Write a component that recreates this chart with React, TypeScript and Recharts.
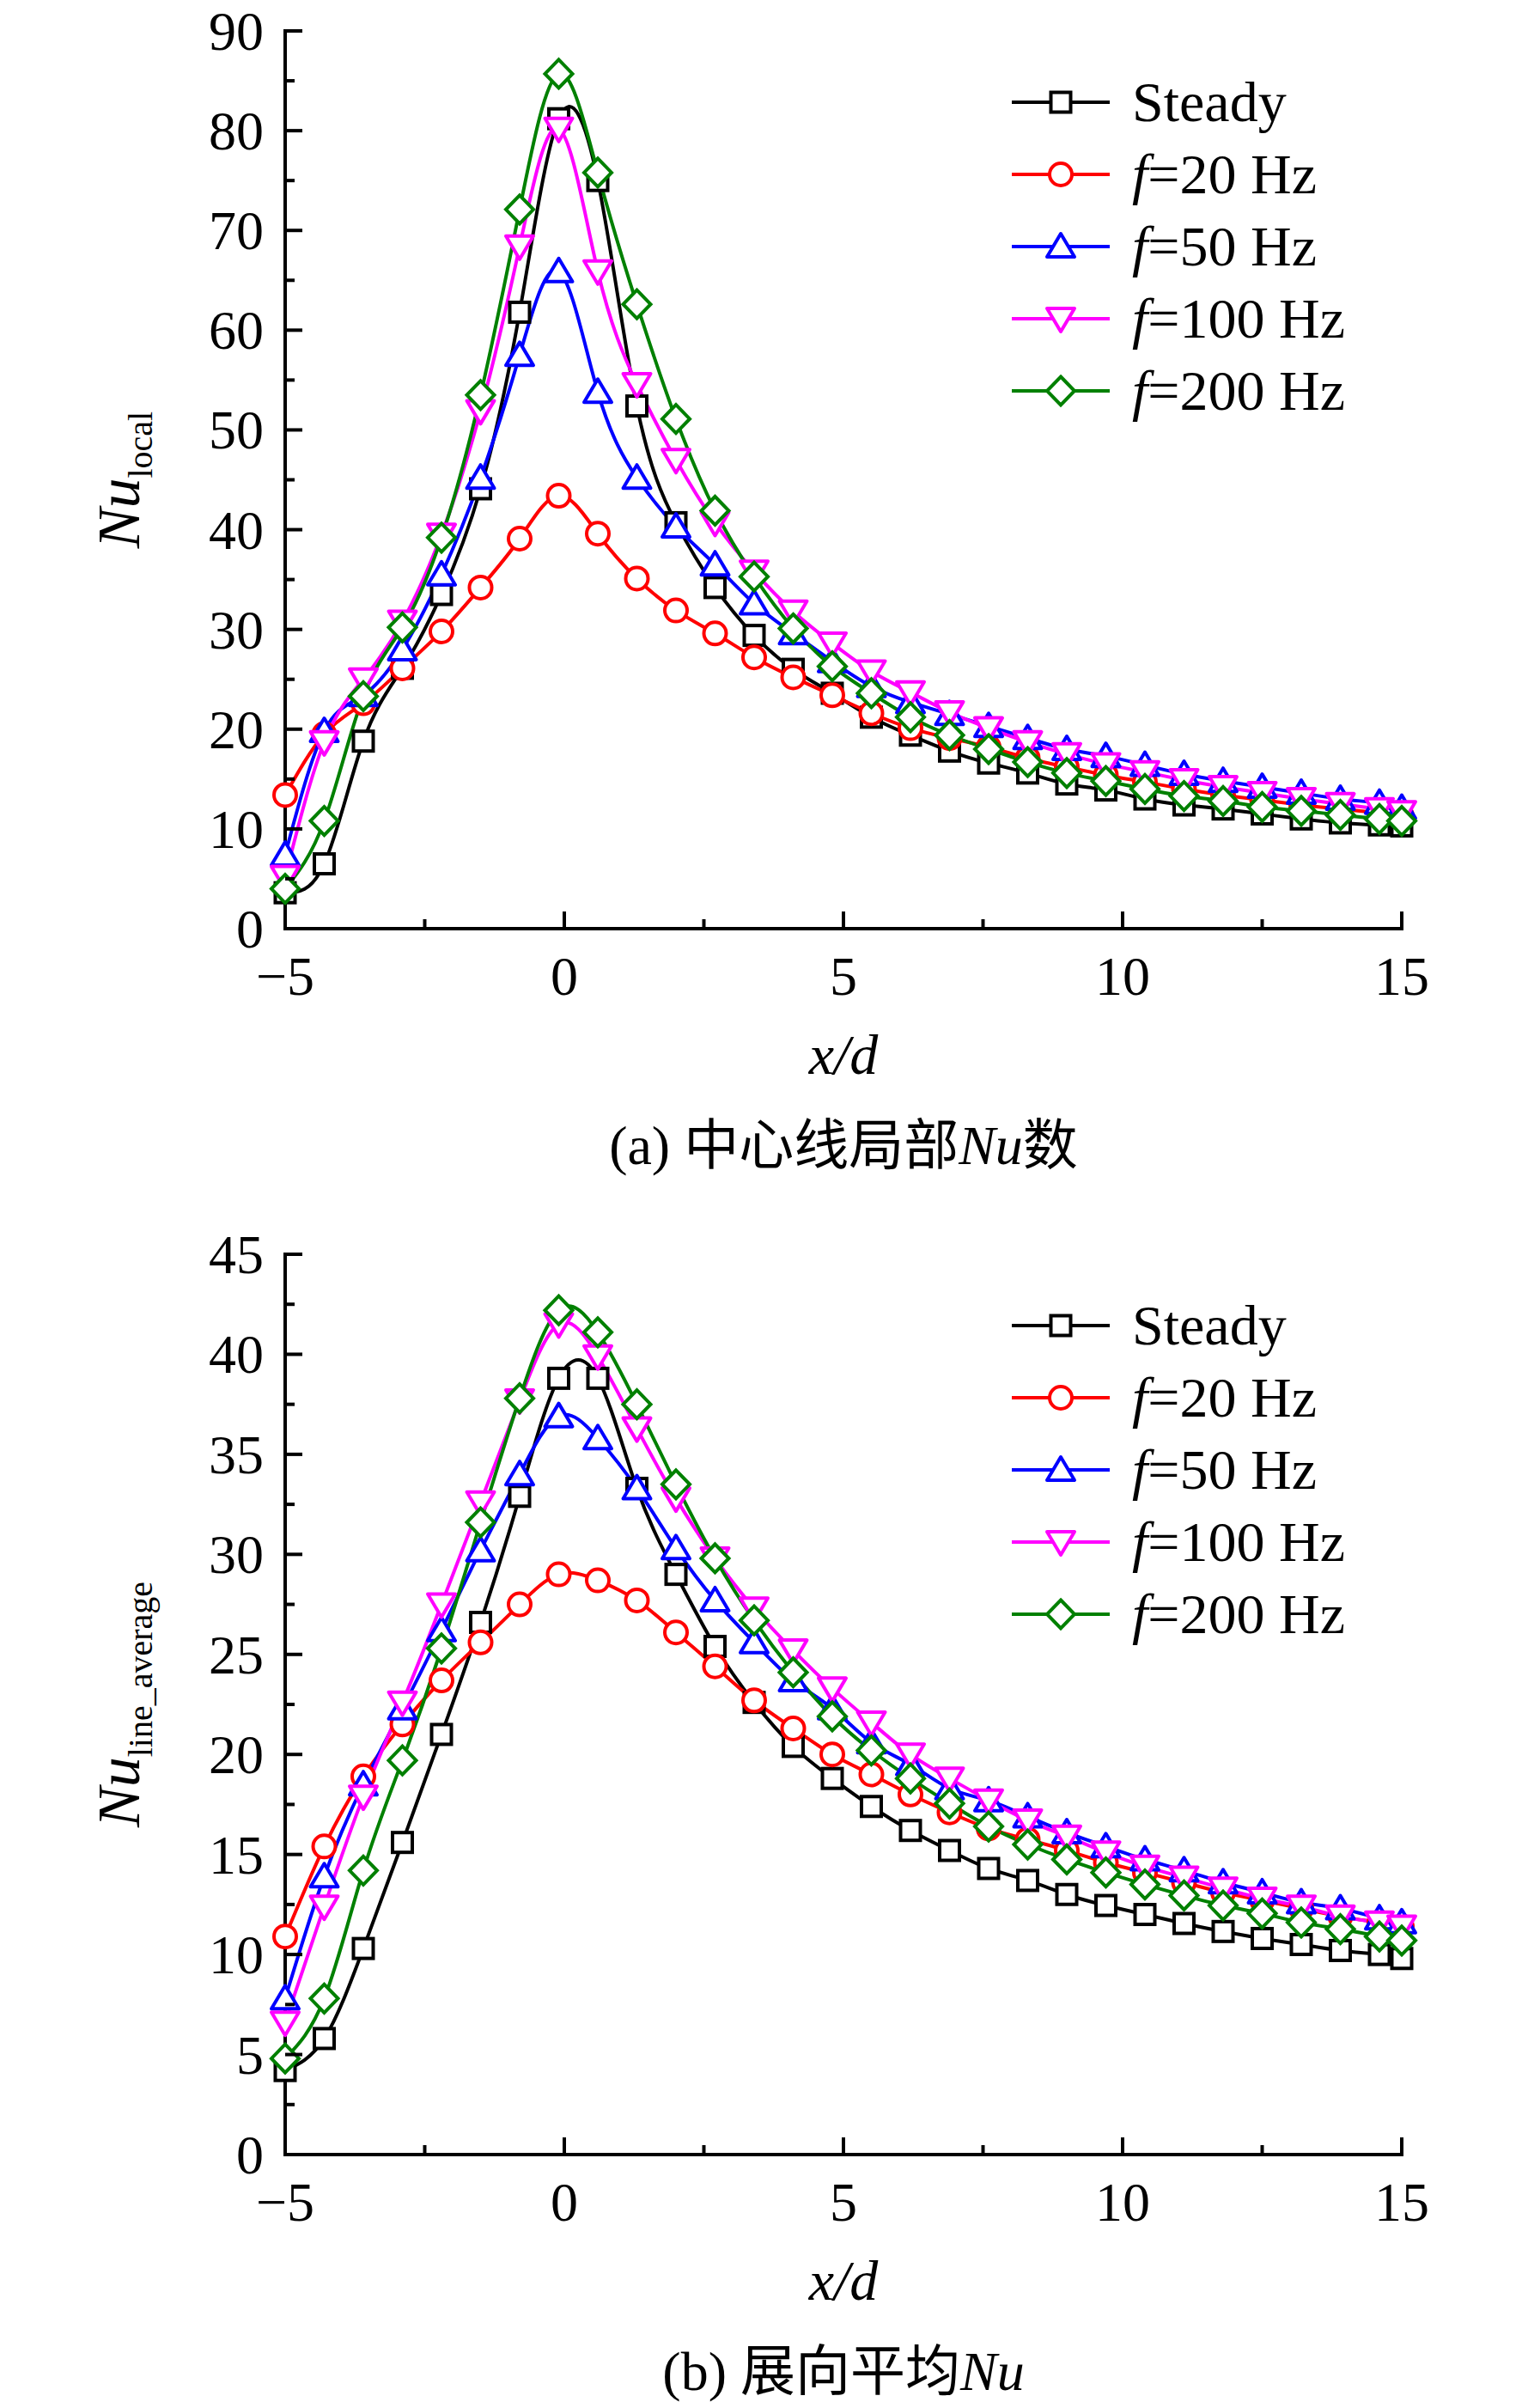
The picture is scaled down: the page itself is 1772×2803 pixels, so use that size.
import React from 'react';
import { LineChart, Line, XAxis, YAxis, Legend } from 'recharts';

const FONT = "'Liberation Serif', 'Times New Roman', 'Noto Sans CJK SC', serif";

// x/d positions of the measured points
const X_POS = [-5, -4.3, -3.6, -2.9, -2.2, -1.5, -0.8, -0.1, 0.6, 1.3, 2.0, 2.7, 3.4, 4.1, 4.8, 5.5, 6.2, 6.9, 7.6, 8.3, 9.0, 9.7, 10.4, 11.1, 11.8, 12.5, 13.2, 13.9, 14.6, 15];
const X_TICKS = [-5, -2.5, 0, 2.5, 5, 7.5, 10, 12.5, 15];
const Y_TICKS_A = [0, 5, 10, 15, 20, 25, 30, 35, 40, 45, 50, 55, 60, 65, 70, 75, 80, 85, 90];
const Y_TICKS_B = [0, 2.5, 5, 7.5, 10, 12.5, 15, 17.5, 20, 22.5, 25, 27.5, 30, 32.5, 35, 37.5, 40, 42.5, 45];

// (a) centre-line local Nu
const STEADY_A = [3.6, 6.5, 18.8, 26.1, 33.5, 44.1, 61.8, 81.2, 75.0, 52.4, 40.7, 34.2, 29.4, 26.0, 23.6, 21.2, 19.4, 17.8, 16.6, 15.6, 14.5, 13.9, 13.0, 12.4, 12.0, 11.5, 11.0, 10.6, 10.4, 10.3];
const F20_A = [13.4, 19.5, 22.6, 26.1, 29.8, 34.2, 39.1, 43.4, 39.6, 35.1, 31.9, 29.6, 27.2, 25.2, 23.4, 21.6, 20.1, 19.1, 18.2, 17.1, 16.2, 15.4, 14.7, 14.0, 13.4, 12.9, 12.4, 12.0, 11.6, 11.3];
const F50_A = [7.4, 19.8, 23.4, 28.0, 35.5, 45.2, 57.5, 65.9, 53.8, 45.2, 40.3, 36.5, 32.6, 29.6, 26.8, 24.3, 22.7, 21.5, 20.3, 19.1, 18.0, 17.3, 16.4, 15.5, 14.8, 14.2, 13.6, 13.0, 12.6, 12.1];
const F100_A = [5.2, 18.7, 25.0, 30.8, 39.5, 51.9, 68.4, 80.2, 65.9, 54.6, 47.0, 40.7, 35.8, 31.8, 28.6, 25.8, 23.7, 21.7, 20.1, 18.7, 17.5, 16.5, 15.7, 14.9, 14.2, 13.6, 13.0, 12.5, 12.0, 11.7];
const F200_A = [4.0, 10.8, 23.3, 30.2, 39.2, 53.5, 72.1, 85.7, 75.8, 62.6, 51.1, 41.9, 35.3, 30.1, 26.3, 23.6, 21.2, 19.4, 18.0, 16.7, 15.6, 14.8, 14.0, 13.3, 12.8, 12.2, 11.8, 11.4, 11.0, 10.8];

// (b) spanwise-averaged Nu
const STEADY_B = [4.2, 5.8, 10.3, 15.6, 21.0, 26.6, 32.9, 38.8, 38.8, 33.3, 29.0, 25.4, 22.6, 20.4, 18.8, 17.4, 16.2, 15.2, 14.3, 13.7, 13.0, 12.45, 12.0, 11.55, 11.15, 10.8, 10.5, 10.2, 10.0, 9.8];
const F20_B = [10.9, 15.4, 18.9, 21.5, 23.7, 25.6, 27.5, 29.0, 28.7, 27.7, 26.1, 24.4, 22.7, 21.3, 20.0, 19.0, 18.0, 17.1, 16.3, 15.75, 15.2, 14.6, 14.1, 13.6, 13.1, 12.7, 12.3, 11.9, 11.6, 11.4];
const F50_B = [7.8, 13.9, 18.5, 22.3, 26.2, 30.2, 34.0, 36.9, 35.8, 33.3, 30.3, 27.7, 25.6, 23.7, 22.3, 20.6, 19.5, 18.3, 17.7, 16.9, 16.1, 15.4, 14.75, 14.2, 13.6, 13.1, 12.6, 12.3, 11.8, 11.6];
const F100_B = [6.6, 12.4, 17.9, 22.6, 27.5, 32.6, 37.7, 41.5, 39.9, 36.3, 32.8, 29.8, 27.3, 25.2, 23.3, 21.6, 20.0, 18.8, 17.7, 16.7, 15.9, 15.1, 14.4, 13.85, 13.3, 12.8, 12.4, 11.9, 11.6, 11.4];
const F200_B = [4.8, 7.8, 14.2, 19.7, 25.3, 31.6, 37.8, 42.2, 41.1, 37.5, 33.5, 29.8, 26.7, 24.1, 21.9, 20.2, 18.8, 17.55, 16.4, 15.5, 14.75, 14.1, 13.5, 12.95, 12.45, 12.05, 11.6, 11.27, 10.9, 10.7];

const SERIES = [
  { key: 'steady', name: 'Steady', color: '#000000', kind: 'square' },
  { key: 'f20', name: 'f=20 Hz', color: '#ff0000', kind: 'circle' },
  { key: 'f50', name: 'f=50 Hz', color: '#0000ff', kind: 'up' },
  { key: 'f100', name: 'f=100 Hz', color: '#ff00ff', kind: 'down' },
  { key: 'f200', name: 'f=200 Hz', color: '#008000', kind: 'diamond' },
];

const rowsA = X_POS.map((x, i) => ({
  x, steady: STEADY_A[i], f20: F20_A[i], f50: F50_A[i], f100: F100_A[i], f200: F200_A[i],
}));
const rowsB = X_POS.map((x, i) => ({
  x, steady: STEADY_B[i], f20: F20_B[i], f50: F50_B[i], f100: F100_B[i], f200: F200_B[i],
}));

function Marker({ kind, cx, cy, color }: { kind: string; cx: number; cy: number; color: string }) {
  const st = { fill: '#ffffff', stroke: color, strokeWidth: 4 };
  if (kind === 'square') return <rect x={cx - 11.5} y={cy - 11.5} width={23} height={23} {...st} />;
  if (kind === 'circle') return <circle cx={cx} cy={cy} r={13} {...st} />;
  if (kind === 'up') return <polygon points={`${cx},${cy - 15} ${cx + 16},${cy + 12} ${cx - 16},${cy + 12}`} {...st} strokeLinejoin="round" />;
  if (kind === 'down') return <polygon points={`${cx},${cy + 15} ${cx + 16},${cy - 12} ${cx - 16},${cy - 12}`} {...st} strokeLinejoin="round" />;
  return <polygon points={`${cx},${cy - 16.5} ${cx + 16},${cy} ${cx},${cy + 16.5} ${cx - 16},${cy}`} {...st} />;
}

function LegendBox() {
  return (
    <div style={{ display: 'flex', flexDirection: 'column' }}>
      {SERIES.map((s) => (
        <div key={s.key} style={{ height: 84, display: 'flex', alignItems: 'center' }}>
          <svg width={148} height={84}>
            <line x1={8} x2={122} y1={42} y2={42} stroke={s.color} strokeWidth={4} />
            <Marker kind={s.kind} cx={65} cy={42} color={s.color} />
          </svg>
          <span style={{ fontFamily: FONT, fontSize: 66, lineHeight: '84px', whiteSpace: 'nowrap', color: '#000' }}>
            {s.name.startsWith('f=') ? (<><i>f</i>{s.name.slice(1)}</>) : s.name}
          </span>
        </div>
      ))}
    </div>
  );
}

const YM = 25; // gap between y tick labels and the axis
const XM = 10;

function YTick(props: any) {
  const { x, y, payload, major } = props;
  const v = payload.value;
  const isMajor = Math.abs(v / major - Math.round(v / major)) < 1e-6;
  const ax = x + YM;
  return (
    <g>
      <line x1={ax} x2={ax + (isMajor ? 20 : 11)} y1={y} y2={y} stroke="#000" strokeWidth={4} />
      {isMajor && (
        <text x={x} y={y + 22} textAnchor="end" fontFamily={FONT} fontSize={64} fill="#000">{v}</text>
      )}
    </g>
  );
}

function XTick(props: any) {
  const { x, y, payload } = props;
  const v = payload.value;
  const isMajor = v % 5 === 0;
  const ay = y - XM;
  return (
    <g>
      <line x1={x} x2={x} y1={ay} y2={ay - (isMajor ? 20 : 11)} stroke="#000" strokeWidth={4} />
      {isMajor && (
        <text x={x} y={ay + 77} textAnchor="middle" fontFamily={FONT} fontSize={64} fill="#000">
          {v < 0 ? `\u2212${-v}` : v}
        </text>
      )}
    </g>
  );
}

interface PanelProps {
  rows: any[];
  height: number;
  top: number;
  plotHeight: number;
  yMax: number;
  yTicks: number[];
  yMajor: number;
  sub: string;
  tag: string;
  captionHead: string;
  captionTail: string;
}

function Panel({ rows, height, top, plotHeight, yMax, yTicks, yMajor, sub, tag, captionHead, captionTail }: PanelProps) {
  const axisStyle = { stroke: '#000', strokeWidth: 4, strokeLinecap: 'square' as const };

  const xTitle = (p: any) => {
    const vb = p.viewBox;
    const cx = vb.x + vb.width / 2;
    return (
      <g fontFamily={FONT} fill="#000">
        <text x={cx} y={vb.y + 169} textAnchor="middle" fontSize={66} fontStyle="italic">x/d</text>
        <text x={cx} y={vb.y + 274} textAnchor="middle" fontSize={64}>
          {`${tag} ${captionHead}`}<tspan fontStyle="italic">Nu</tspan>{captionTail}
        </text>
      </g>
    );
  };

  const yTitle = (p: any) => {
    const vb = p.viewBox;
    const bx = vb.x + 162;
    const cy = vb.y + vb.height / 2;
    return (
      <text x={bx} y={cy} transform={`rotate(-90 ${bx} ${cy})`} textAnchor="middle" fontFamily={FONT} fill="#000">
        <tspan fontSize={70} fontStyle="italic">Nu</tspan>
        <tspan fontSize={40} dy={15}>{sub}</tspan>
      </text>
    );
  };

  return (
    <LineChart width={1772} height={height} data={rows} margin={{ top, right: 140, left: 0, bottom: 0 }}>
      <XAxis
        dataKey="x"
        type="number"
        domain={[-5, 15]}
        ticks={X_TICKS}
        interval={0}
        height={height - top - plotHeight}
        tickSize={0}
        tickMargin={XM}
        axisLine={axisStyle}
        tick={(p: any) => <XTick {...p} />}
        label={{ content: xTitle }}
      />
      <XAxis xAxisId="top" orientation="top" type="number" domain={[-5, 15]} height={0} tick={false} tickLine={false} axisLine={axisStyle} />
      <YAxis
        type="number"
        domain={[0, yMax]}
        ticks={yTicks}
        interval={0}
        width={332}
        tickSize={0}
        tickMargin={YM}
        axisLine={axisStyle}
        tick={(p: any) => <YTick {...p} major={yMajor} />}
        label={{ content: yTitle }}
      />
      <YAxis yAxisId="right" orientation="right" type="number" domain={[0, yMax]} width={0} tick={false} tickLine={false} axisLine={axisStyle} />
      <Legend
        layout="vertical"
        align="center"
        verticalAlign="middle"
        wrapperStyle={{ left: 1170, top: top + 41, width: 'auto' }}
        content={() => <LegendBox />}
      />
      {SERIES.map((s) => (
        <Line
          key={s.key}
          dataKey={s.key}
          type="natural"
          stroke={s.color}
          strokeWidth={4}
          isAnimationActive={false}
          activeDot={false}
          dot={(p: any) => <Marker key={`${s.key}-${p.index}`} kind={s.kind} cx={p.cx} cy={p.cy} color={s.color} />}
        />
      ))}
    </LineChart>
  );
}

export default function App() {
  return (
    <div style={{ position: 'absolute', left: 0, top: 0, width: 1772, height: 2803, background: '#fff' }}>
      <Panel
        rows={rowsA}
        height={1400}
        top={36}
        plotHeight={1045}
        yMax={90}
        yTicks={Y_TICKS_A}
        yMajor={10}
        sub="local"
        tag="(a)"
        captionHead="中心线局部"
        captionTail="数"
      />
      <Panel
        rows={rowsB}
        height={1403}
        top={60}
        plotHeight={1048}
        yMax={45}
        yTicks={Y_TICKS_B}
        yMajor={5}
        sub="line_average"
        tag="(b)"
        captionHead="展向平均"
        captionTail=""
      />
    </div>
  );
}
